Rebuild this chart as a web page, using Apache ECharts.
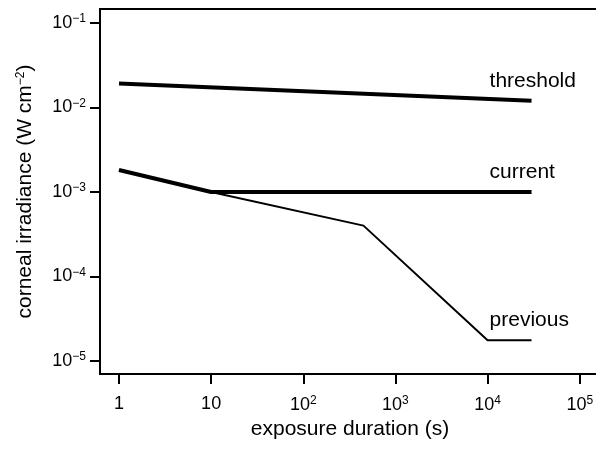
<!DOCTYPE html>
<html>
<head>
<meta charset="utf-8">
<script src="https://cdn.jsdelivr.net/npm/echarts@6/dist/echarts.min.js"></script>
<style>
  html, body { margin: 0; padding: 0; background: #fff; }
  #chart { width: 596px; height: 451px; }
</style>
</head>
<body>
<div id="chart"></div>
<script>
// exposure duration (s) and corneal irradiance (W cm^-2)
let thresholdX = [1, 30000];
let thresholdY = [0.0192, 0.012];
let currentX = [1, 10, 30000];
let currentY = [0.00182, 0.001, 0.001];
let previousX = [1, 10, 450, 10000, 30000];
let previousY = [0.00182, 0.001, 0.0004, 0.0000176, 0.0000176];

let xTicks = [1, 10, 100, 1000, 10000, 100000];
let yTicks = [0.1, 0.01, 0.001, 0.0001, 0.00001];

function pairs(xs, ys) {
    return xs.map(function (x, i) { return [x, ys[i]]; });
}

function powLabel(v) {
    let e = Math.round(Math.log10(v));
    if (e === 0) return '1';
    if (e === 1) return '10';
    return '10{sup|' + String(e).replace('-', '\u2212') + '}';
}

let font = 'Liberation Sans, Arial, Helvetica, sans-serif';
let supStyle = { fontSize: 12, fontFamily: font, color: '#000', padding: [0, 0, 8, 0] };

function makeSeries(name, xs, ys, width) {
    return {
        name: name,
        type: 'line',
        data: pairs(xs, ys),
        symbol: 'none',
        lineStyle: { color: '#000', width: width },
        endLabel: {
            show: true,
            formatter: '{a}',
            color: '#000',
            fontSize: 21,
            fontFamily: font,
            offset: [-50, -20]
        }
    };
}

let myChart = echarts.init(document.getElementById('chart'));
let option = {
    animation: false,
    backgroundColor: '#fff',
    textStyle: { fontFamily: font },
    grid: {
        show: true,
        left: 100,
        top: 9,
        right: -4,
        bottom: 77,
        outerBoundsMode: 'none',
        containLabel: false,
        borderColor: '#000',
        borderWidth: 2
    },
    xAxis: {
        type: 'log',
        logBase: 10,
        min: Math.pow(10, -0.206),
        max: Math.pow(10, 5.22),
        name: 'exposure duration (s)',
        nameLocation: 'middle',
        nameGap: 43,
        nameTextStyle: { fontSize: 21, color: '#000', fontFamily: font },
        axisLine: { show: false },
        axisTick: { length: 10, lineStyle: { color: '#000', width: 2 }, customValues: xTicks },
        axisLabel: {
            customValues: xTicks,
            margin: 21,
            fontSize: 18,
            color: '#000',
            fontFamily: font,
            formatter: powLabel,
            rich: { sup: supStyle }
        },
        splitLine: { show: false },
        minorTick: { show: false }
    },
    yAxis: {
        type: 'log',
        logBase: 10,
        min: Math.pow(10, -5.154),
        max: Math.pow(10, -0.834),
        name: 'corneal irradiance (W cm{sup|\u22122})',
        nameLocation: 'middle',
        nameGap: 64,
        nameTextStyle: {
            fontSize: 21, color: '#000', fontFamily: font,
            rich: { sup: { fontSize: 12, fontFamily: font, color: '#000', padding: [0, 0, 9, 0] } }
        },
        axisLine: { show: false },
        axisTick: { length: 10, lineStyle: { color: '#000', width: 2 }, customValues: yTicks },
        axisLabel: {
            customValues: yTicks,
            margin: 14,
            fontSize: 18,
            color: '#000',
            fontFamily: font,
            formatter: powLabel,
            rich: { sup: supStyle }
        },
        splitLine: { show: false }
    },
    series: [
        makeSeries('threshold', thresholdX, thresholdY, 4),
        makeSeries('current', currentX, currentY, 4),
        makeSeries('previous', previousX, previousY, 2)
    ]
};
myChart.setOption(option);
</script>
</body>
</html>
